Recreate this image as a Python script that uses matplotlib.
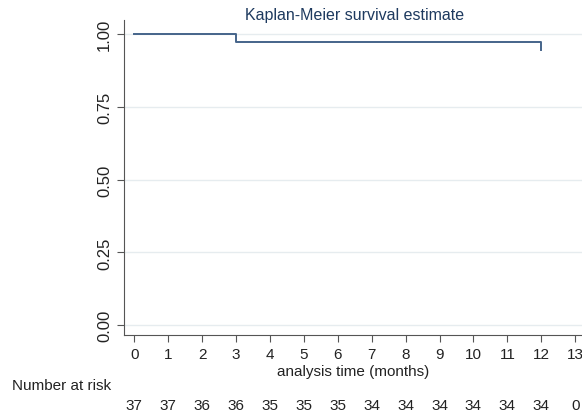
import matplotlib.pyplot as plt
import numpy as np

plt.rcParams['font.family'] = ['Liberation Sans', 'DejaVu Sans']

# step survival estimate (drop at 3 and 12 months)
times = [0, 3, 3, 12, 12]
surv = [1.0, 1.0, 0.973, 0.973, 0.944]
risk_times = list(range(0, 14))
at_risk = [37, 37, 36, 36, 35, 35, 35, 34, 34, 34, 34, 34, 34, 0]
yticks = [0.0, 0.25, 0.5, 0.75, 1.0]

fig = plt.figure(figsize=(5.82, 4.14), dpi=100)
ax = fig.add_axes([0.213, 0.188, 0.787, 0.762])

ax.plot(times, surv, color='#45648a', lw=1.4, drawstyle='steps-post')

ax.set_xlim(-0.3, 13.2)
ax.set_ylim(-0.034, 1.049)
ax.set_yticks(yticks)
ax.set_yticklabels(['%.2f' % v for v in yticks], rotation=90, va='center')
ax.set_xticks(risk_times)
ax.tick_params(labelsize=11, colors='#222222', length=5, color='#555555')
ax.tick_params(axis='y', labelsize=12)
ax.grid(axis='y', color='#e6ecef', lw=1)
ax.set_axisbelow(True)
for s in ['top', 'right']:
    ax.spines[s].set_visible(False)
for s in ['left', 'bottom']:
    ax.spines[s].set_color('#555555')

ax.set_xlabel('analysis time (months)', fontsize=11, color='#222222', labelpad=2)
fig.text(0.61, 0.963, 'Kaplan-Meier survival estimate', ha='center', va='center',
         fontsize=11.5, color='#1e3a5f')

fig.text(0.02, 0.068, 'Number at risk', ha='left', va='center', fontsize=11, color='#222222')
for t, n in zip(risk_times, at_risk):
    ax.annotate(str(n), xy=(t, 0), xycoords=('data', 'figure fraction'),
                xytext=(0, 0.02 * 414), textcoords='offset pixels',
                ha='center', va='center', fontsize=11, color='#222222', annotation_clip=False)

fig.savefig('out.png', dpi=100)
